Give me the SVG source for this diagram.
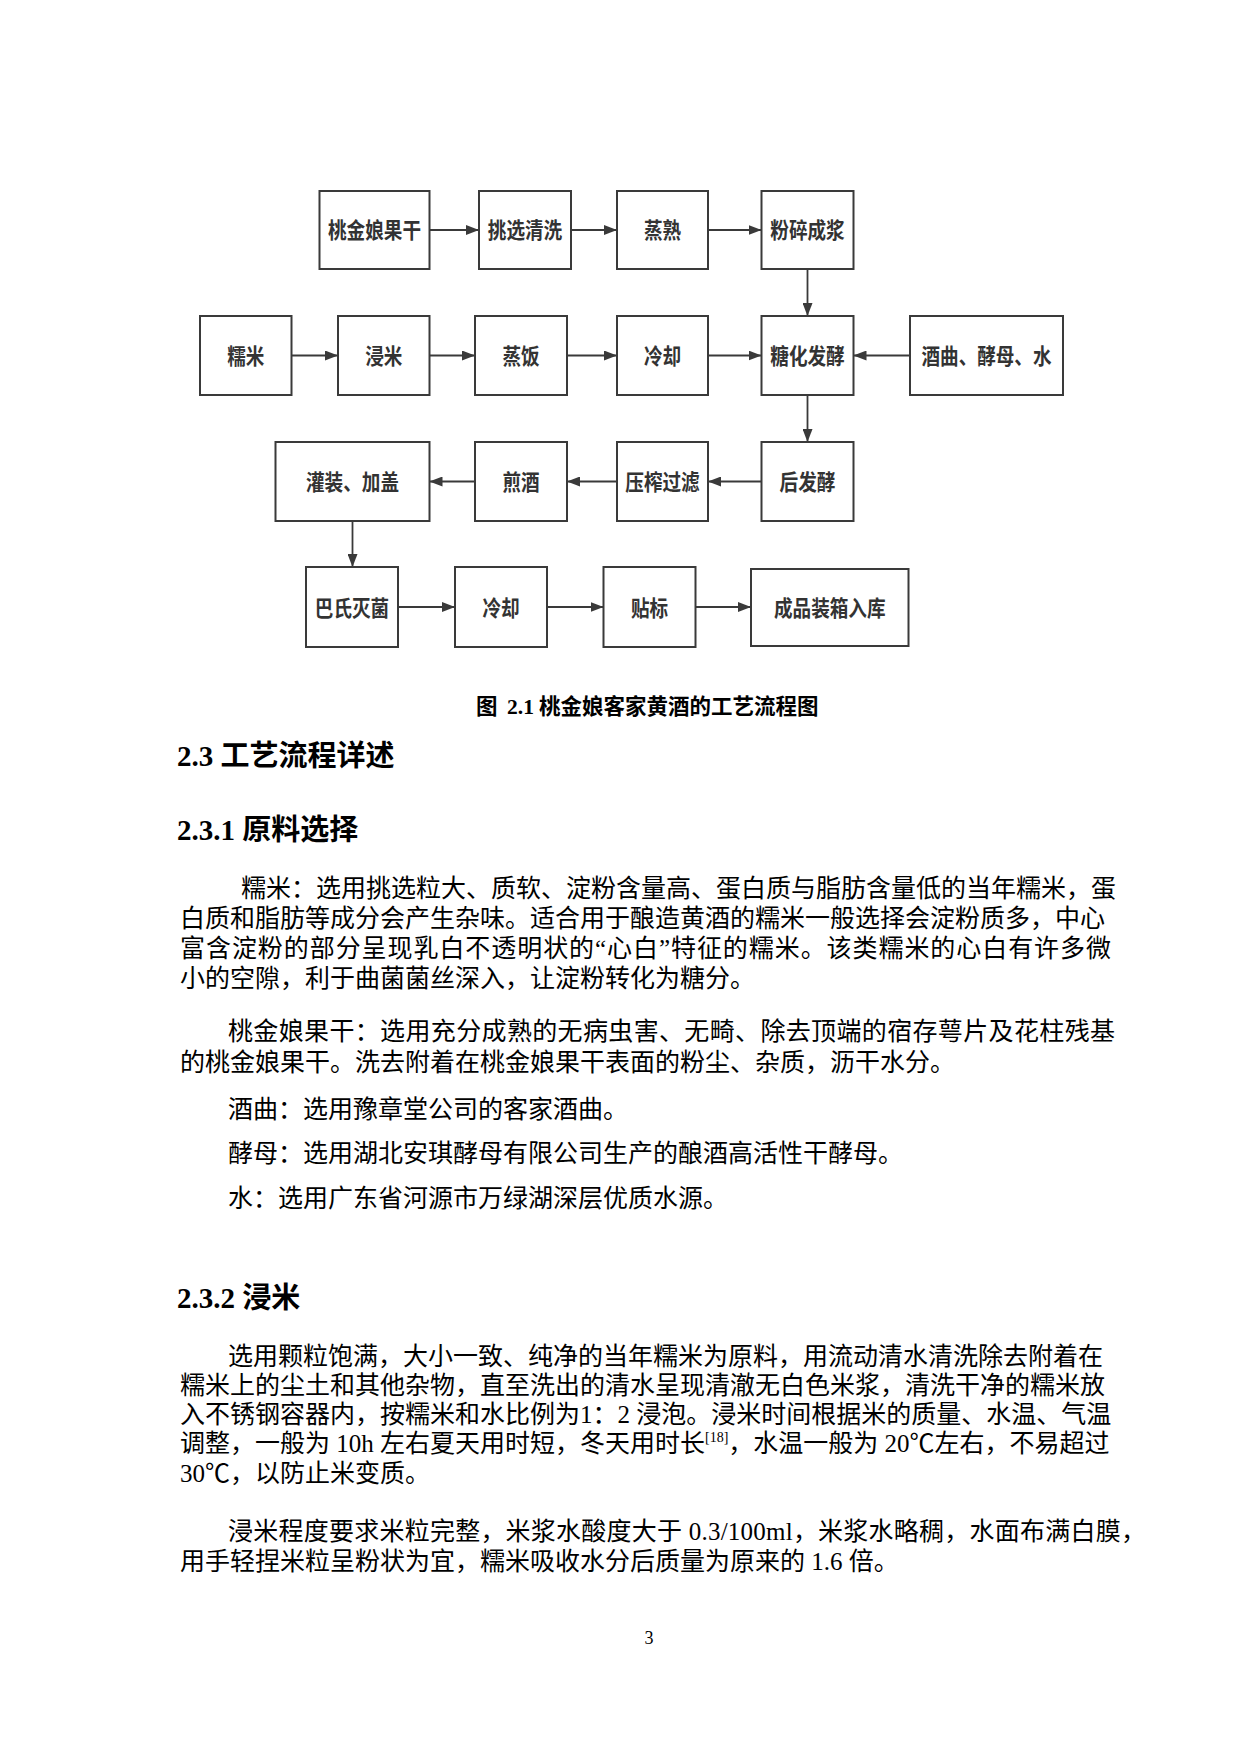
<svg xmlns="http://www.w3.org/2000/svg" width="1240" height="1754" viewBox="0 0 1240 1754">
<style>
.box{fill:#fff;stroke:#3a3a3a;stroke-width:2}
.bt{font-family:"Noto Sans CJK SC",sans-serif;font-weight:700;font-size:22px;fill:#333;text-anchor:middle}
.con{stroke:#3a3a3a;stroke-width:1.8;fill:none}
.body{font-family:"Liberation Serif","Noto Sans CJK SC",serif;font-size:25px;fill:#000}
.h{font-family:"Liberation Serif","Noto Sans CJK SC",serif;font-size:29px;font-weight:700;fill:#000}
.cap{font-family:"Liberation Serif","Noto Sans CJK SC",serif;font-size:21.5px;font-weight:700;fill:#000}
</style>
<defs>
<marker id="ah" viewBox="0 0 13 10" refX="13" refY="5" markerWidth="13" markerHeight="10" markerUnits="userSpaceOnUse" orient="auto">
<path d="M0,0 L13,5 L0,10 z" fill="#3a3a3a"/>
</marker>
</defs>
<rect width="1240" height="1754" fill="#fff"/>

<g id="connectors">
<line class="con" x1="429.5" y1="230" x2="479" y2="230" marker-end="url(#ah)"/>
<line class="con" x1="571" y1="230" x2="617" y2="230" marker-end="url(#ah)"/>
<line class="con" x1="708" y1="230" x2="761.5" y2="230" marker-end="url(#ah)"/>
<line class="con" x1="807.5" y1="269" x2="807.5" y2="316" marker-end="url(#ah)"/>
<line class="con" x1="291.5" y1="355.5" x2="338" y2="355.5" marker-end="url(#ah)"/>
<line class="con" x1="429.5" y1="355.5" x2="475" y2="355.5" marker-end="url(#ah)"/>
<line class="con" x1="567" y1="355.5" x2="617" y2="355.5" marker-end="url(#ah)"/>
<line class="con" x1="708" y1="355.5" x2="761.5" y2="355.5" marker-end="url(#ah)"/>
<line class="con" x1="910" y1="355.5" x2="853.5" y2="355.5" marker-end="url(#ah)"/>
<line class="con" x1="807.5" y1="395" x2="807.5" y2="442" marker-end="url(#ah)"/>
<line class="con" x1="761.5" y1="481.5" x2="708" y2="481.5" marker-end="url(#ah)"/>
<line class="con" x1="617" y1="481.5" x2="567" y2="481.5" marker-end="url(#ah)"/>
<line class="con" x1="475" y1="481.5" x2="429.5" y2="481.5" marker-end="url(#ah)"/>
<line class="con" x1="352.5" y1="521" x2="352.5" y2="567" marker-end="url(#ah)"/>
<line class="con" x1="398" y1="607" x2="455" y2="607" marker-end="url(#ah)"/>
<line class="con" x1="547" y1="607" x2="603.5" y2="607" marker-end="url(#ah)"/>
<line class="con" x1="695.5" y1="607" x2="751" y2="607" marker-end="url(#ah)"/>
</g>

<g id="n1"><rect class="box" x="319.5" y="191" width="110" height="78"/><text class="bt" x="374.5" y="238.4" textLength="93" lengthAdjust="spacingAndGlyphs">桃金娘果干</text></g>
<g id="n2"><rect class="box" x="479" y="191" width="92" height="78"/><text class="bt" x="525" y="238.4" textLength="74.4" lengthAdjust="spacingAndGlyphs">挑选清洗</text></g>
<g id="n3"><rect class="box" x="617" y="191" width="91" height="78"/><text class="bt" x="662.5" y="238.4" textLength="37.2" lengthAdjust="spacingAndGlyphs">蒸熟</text></g>
<g id="n4"><rect class="box" x="761.5" y="191" width="92" height="78"/><text class="bt" x="807.5" y="238.4" textLength="74.4" lengthAdjust="spacingAndGlyphs">粉碎成浆</text></g>

<g id="n5"><rect class="box" x="200" y="316" width="91.5" height="79"/><text class="bt" x="245.75" y="364" textLength="37.2" lengthAdjust="spacingAndGlyphs">糯米</text></g>
<g id="n6"><rect class="box" x="338" y="316" width="91.5" height="79"/><text class="bt" x="383.75" y="364" textLength="37.2" lengthAdjust="spacingAndGlyphs">浸米</text></g>
<g id="n7"><rect class="box" x="475" y="316" width="92" height="79"/><text class="bt" x="521" y="364" textLength="37.2" lengthAdjust="spacingAndGlyphs">蒸饭</text></g>
<g id="n8"><rect class="box" x="617" y="316" width="91" height="79"/><text class="bt" x="662.5" y="364" textLength="37.2" lengthAdjust="spacingAndGlyphs">冷却</text></g>
<g id="n9"><rect class="box" x="761.5" y="316" width="92" height="79"/><text class="bt" x="807.5" y="364" textLength="74.4" lengthAdjust="spacingAndGlyphs">糖化发酵</text></g>
<g id="n10"><rect class="box" x="910" y="316" width="153" height="79"/><text class="bt" x="986.5" y="364" textLength="130" lengthAdjust="spacingAndGlyphs">酒曲、酵母、水</text></g>

<g id="n11"><rect class="box" x="275.5" y="442" width="154" height="79"/><text class="bt" x="352.5" y="490" textLength="93" lengthAdjust="spacingAndGlyphs">灌装、加盖</text></g>
<g id="n12"><rect class="box" x="475" y="442" width="92" height="79"/><text class="bt" x="521" y="490" textLength="37.2" lengthAdjust="spacingAndGlyphs">煎酒</text></g>
<g id="n13"><rect class="box" x="617" y="442" width="91" height="79"/><text class="bt" x="662.5" y="490" textLength="74.4" lengthAdjust="spacingAndGlyphs">压榨过滤</text></g>
<g id="n14"><rect class="box" x="761.5" y="442" width="92" height="79"/><text class="bt" x="807.5" y="490" textLength="55.8" lengthAdjust="spacingAndGlyphs">后发酵</text></g>

<g id="n15"><rect class="box" x="306" y="567" width="92" height="80"/><text class="bt" x="352" y="615.5" textLength="74.4" lengthAdjust="spacingAndGlyphs">巴氏灭菌</text></g>
<g id="n16"><rect class="box" x="455" y="567" width="92" height="80"/><text class="bt" x="501" y="615.5" textLength="37.2" lengthAdjust="spacingAndGlyphs">冷却</text></g>
<g id="n17"><rect class="box" x="603.5" y="567" width="92" height="80"/><text class="bt" x="649.5" y="615.5" textLength="37.2" lengthAdjust="spacingAndGlyphs">贴标</text></g>
<g id="n18"><rect class="box" x="751" y="569" width="157.5" height="77"/><text class="bt" x="829.75" y="615.5" textLength="111.6" lengthAdjust="spacingAndGlyphs">成品装箱入库</text></g>

<g id="caption">
<text class="cap" y="714"><tspan x="476">图</tspan><tspan x="507">2.1</tspan><tspan x="539">桃金娘客家黄酒的工艺流程图</tspan></text>
</g>

<g id="text">
<text class="h" x="177" y="765.5">2.3 工艺流程详述</text>
<text class="h" x="177" y="839.5">2.3.1 原料选择</text>

<text class="body" x="241" y="896.5">糯米：选用挑选粒大、质软、淀粉含量高、蛋白质与脂肪含量低的当年糯米，蛋</text>
<text class="body" x="180" y="926.5">白质和脂肪等成分会产生杂味。适合用于酿造黄酒的糯米一般选择会淀粉质多，中心</text>
<text class="body" x="180" y="956.5" textLength="931" lengthAdjust="spacing">富含淀粉的部分呈现乳白不透明状的“心白”特征的糯米。该类糯米的心白有许多微</text>
<text class="body" x="180" y="986.5">小的空隙，利于曲菌菌丝深入，让淀粉转化为糖分。</text>

<text class="body" x="228" y="1039.5" textLength="887" lengthAdjust="spacing">桃金娘果干：选用充分成熟的无病虫害、无畸、除去顶端的宿存萼片及花柱残基</text>
<text class="body" x="180" y="1070.5">的桃金娘果干。洗去附着在桃金娘果干表面的粉尘、杂质，沥干水分。</text>
<text class="body" x="228" y="1117.5">酒曲：选用豫章堂公司的客家酒曲。</text>
<text class="body" x="228" y="1161.5">酵母：选用湖北安琪酵母有限公司生产的酿酒高活性干酵母。</text>
<text class="body" x="228" y="1206.5">水：选用广东省河源市万绿湖深层优质水源。</text>

<text class="h" x="177" y="1307.5">2.3.2 浸米</text>

<text class="body" x="228" y="1364.5">选用颗粒饱满，大小一致、纯净的当年糯米为原料，用流动清水清洗除去附着在</text>
<text class="body" x="180" y="1393.8">糯米上的尘土和其他杂物，直至洗出的清水呈现清澈无白色米浆，清洗干净的糯米放</text>
<text class="body" x="180" y="1423.1">入不锈钢容器内，按糯米和水比例为1：2 浸泡。浸米时间根据米的质量、水温、气温</text>
<text class="body" x="180" y="1452.4">调整，一般为 10h 左右夏天用时短，冬天用时长<tspan font-size="14" dy="-10">[18]</tspan><tspan dy="10">，水温一般为 20℃左右，不易超过</tspan></text>
<text class="body" x="180" y="1481.7">30℃，以防止米变质。</text>

<text class="body" x="228" y="1540" textLength="918" lengthAdjust="spacing">浸米程度要求米粒完整，米浆水酸度大于 0.3/100ml，米浆水略稠，水面布满白膜，</text>
<text class="body" x="180" y="1569.5">用手轻捏米粒呈粉状为宜，糯米吸收水分后质量为原来的 1.6 倍。</text>

<text x="649" y="1644" font-family="Liberation Serif,serif" font-size="18" text-anchor="middle">3</text>
</g>
</svg>
